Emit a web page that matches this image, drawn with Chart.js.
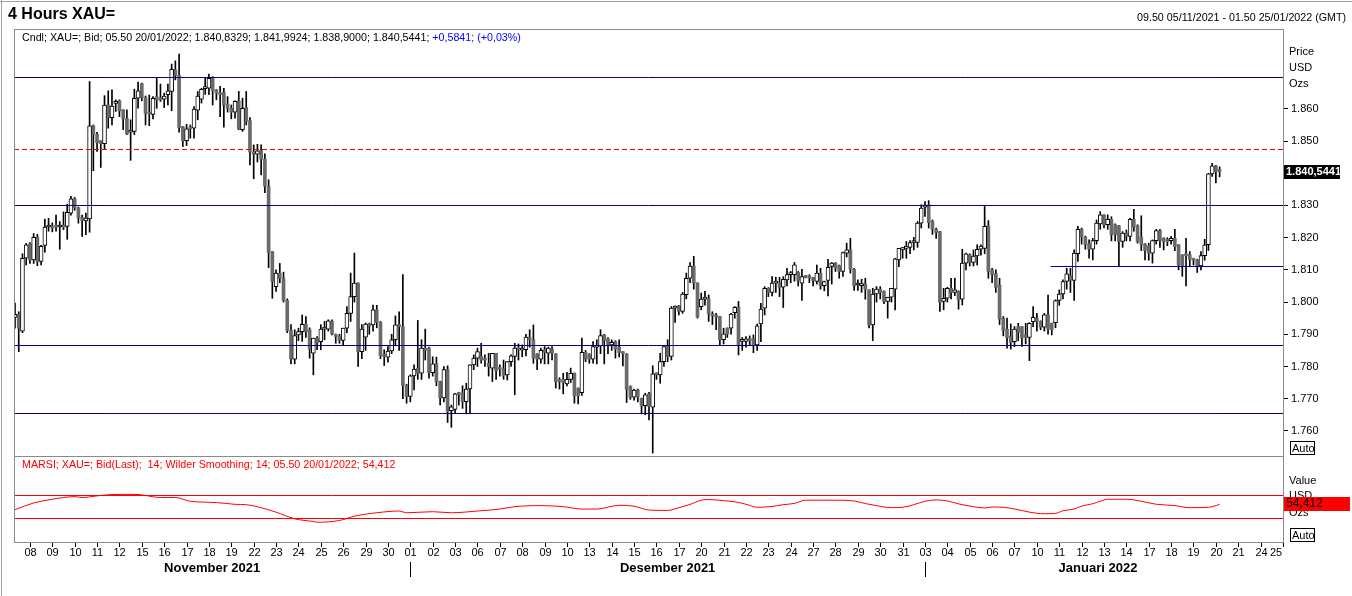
<!DOCTYPE html>
<html><head><meta charset="utf-8">
<script src="https://cdn.jsdelivr.net/npm/chart.js@4.4.1/dist/chart.umd.min.js"></script>
<style>
html,body{margin:0;padding:0;background:#fff;}
#wrap{position:relative;width:1352px;height:596px;overflow:hidden;background:#fff;}
canvas{position:absolute;left:0;}
#c1{top:0;}
#c2{top:456px;}
</style></head><body>
<div id="wrap"><canvas id="c1" width="1352" height="480"></canvas><canvas id="c2" width="1352" height="140"></canvas></div>
<script>
// ---------- DATA ----------
const dayLabels = ['08','09','10','11','12','15','16','17','18','19','22','23','24','25','26','29','30',
  '01','02','03','06','07','08','09','10','13','14','15','16','17','20','21','22','23','24','27','28','29','30','31',
  '03','04','05','06','07','10','11','12','13','14','17','18','19','20','21','24','25'];
const monthLabels = ['November 2021','Desember 2021','Januari 2022'];
const monthStartDay = [0,17,40];
const firstDayOffset = 4;   // 4-hour candles on Fri 05/11 before the first labelled day
const candlesPerDay = 6;

const opens = [
1795.2,1796.2,1791,1813.6,1818,1813.1,1820.1,1812.6,1817.6,1823.3,
1823.5,1823.7,1823.3,1823.9,1823.5,1827.6,1832.1,1829.2,1826.3,1825.2,
1825.8,1854.7,1852.1,1850.1,1849.2,1861.2,1857.3,1861.7,1862.5,1859.7,
1857,1852.8,1853,1863.3,1867.8,1863.5,1858.8,1858.3,1863.8,1863.3,
1863,1864.4,1865.4,1872.1,1870.4,1854.5,1850.1,1854.2,1854,1859.6,
1863,1866.3,1866.4,1869.7,1865.9,1864.9,1865.1,1861.5,1860.2,1859,
1862.5,1853.5,1860.4,1856.3,1846.6,1845.9,1847,1844.4,1836,1815.7,
1804.8,1809,1807.4,1800.5,1791.2,1782.3,1789.8,1790.8,1793.1,1791.4,
1784.1,1788.8,1787.7,1791.6,1791.6,1794,1789.8,1789.5,1788.1,1791.9,
1796.5,1801.7,1805.9,1784.6,1789.1,1793.2,1792.9,1797.6,1793.7,1783.6,
1782.9,1784.8,1788.3,1792.6,1792.4,1774.1,1770.7,1777.1,1779.5,1777.9,
1785.7,1785.7,1778.1,1780.8,1775.3,1770.2,1779,1766.3,1766.7,1771.5,
1771.7,1769.1,1773,1780.5,1782.6,1783.1,1782.2,1781,1779.5,1784.1,
1779.3,1779.3,1777.4,1781.5,1783.1,1785.7,1785.1,1785.2,1789.1,1788.3,
1783.8,1782.3,1785.2,1784.1,1785.5,1783.9,1775.8,1776,1774.6,1776,
1777.9,1773.2,1771.9,1784.4,1783.6,1782.3,1786,1786.4,1789.8,1788.6,
1786.7,1787.7,1786,1784.3,1783.9,1773.8,1770.5,1772.7,1770.1,1767.8,
1771.5,1767.4,1777.7,1777.4,1781.5,1786.2,1783.1,1798.1,1798.8,1797.1,
1802.3,1807.4,1811.2,1805.9,1798.6,1800.9,1801.1,1796.3,1796,1795.5,
1788.3,1791.9,1791.9,1796.7,1798.4,1787.8,1787.8,1788.6,1788.6,1786.7,
1793.2,1798.1,1804.3,1803,1805.9,1805.9,1804.6,1806.9,1808.5,1808.5,
1809.2,1805.9,1808,1807.9,1807.6,1806.4,1809,1805.1,1806.7,1811.1,
1812.1,1811.3,1809.5,1815.2,1816.2,1810.2,1805.3,1805.1,1805.6,1803.8,
1792.9,1802.5,1804,1803.3,1800.2,1801.5,1804,1813.1,1816.2,1816.7,
1817,1818.5,1818.5,1824.5,1829.5,1830.2,1825,1822.6,1821.9,1800.2,
1801.2,1804.3,1803,1803.3,1800.9,1812.1,1814.7,1812.3,1814.3,1816.4,
1816.7,1823.7,1810,1808.8,1805.3,1795,1791.6,1789.3,1787.7,1792.4,
1792.4,1789.8,1789,1793.9,1795,1794,1792.2,1796,1793.4,1793.6,
1800.5,1802.5,1806.4,1808.2,1806.7,1815,1822.6,1820.2,1818.1,1816.4,
1819.1,1824.3,1827.1,1824,1825.7,1824,1823.7,1818.8,1821.4,1820.4,
1825.7,1823.7,1820.2,1818,1817.5,1815.2,1819.1,1822.2,1819.8,1819.5,
1819.1,1819.8,1817.8,1814.7,1814.7,1814.7,1813.3,1813.1,1811.2,1814.4,
1817.8,1839.8,1842.3,1840.8329];

const highs = [
1799.7,1797,1815,1818.2,1818.5,1821.3,1821,1817.6,1825.8,1826,
1824.6,1827,1825,1828,1830.4,1832.8,1832.5,1829.5,1827,1827.6,
1868.5,1855,1852.7,1850.1,1864.1,1865.6,1865.9,1862.8,1862.8,1859.7,
1859.7,1856.6,1866.1,1868.3,1868,1864,1864.3,1863.8,1869.7,1867.7,
1864.9,1867.7,1873.9,1874.9,1877,1854.5,1855.2,1855,1860.7,1865.4,
1866.4,1869.5,1870.8,1870,1866,1867,1866.4,1863.8,1861.2,1862.5,
1865.4,1863.3,1865.4,1857.3,1848.8,1849,1848.8,1846,1838,1815.7,
1810,1812,1809.3,1801,1793,1791.4,1791.9,1796,1795.5,1792,
1788.8,1789.3,1793,1794,1794.5,1794.5,1790.1,1790,1791.9,1798.6,
1809,1815.2,1806,1793,1793.5,1793.5,1799.1,1799,1794,1785.2,
1786.2,1790,1795.7,1797,1808.5,1774.5,1777.4,1780.5,1794.3,1788.3,
1791.6,1786,1783,1782.9,1775.5,1780,1780.2,1768,1771.7,1772,
1774,1774.8,1780.5,1783.6,1785.7,1787.2,1783.6,1784.1,1784.1,1784.1,
1780.5,1782,1781.5,1783.6,1787.2,1787,1786.7,1790,1791.4,1792.9,
1784,1785.7,1786.2,1786,1786.2,1784,1776.5,1777.9,1778.2,1779.5,
1778,1773.4,1788.8,1785,1784,1787.7,1788.3,1791.4,1790,1789,
1788.3,1788,1788.3,1784.6,1784,1774,1773,1773,1770.2,1771.7,
1772,1780.2,1778,1784.1,1786.2,1788.3,1798.6,1798.8,1799,1803,
1809,1812.3,1814.2,1806,1802.8,1803.3,1802.2,1797,1796.5,1795.5,
1791.9,1792,1796.5,1798.6,1800.2,1789,1789.3,1789.5,1789.8,1793.2,
1799.6,1804.8,1804.5,1807.9,1807.7,1807.7,1807.9,1810.5,1809.5,1812.3,
1809.5,1810.2,1808.2,1808.5,1807.7,1811.5,1810.5,1806.5,1813.3,1812.3,
1812.3,1811.5,1815.5,1818.3,1819.8,1810.5,1806.9,1807.1,1807.4,1803.8,
1804.3,1804.8,1804.8,1803.5,1801.5,1804.3,1813.6,1816.7,1817,1818.8,
1819.1,1820.1,1825,1830.2,1831.2,1831.5,1825.5,1823,1822,1804.3,
1804.6,1807.4,1807.4,1803.5,1816.4,1815.2,1815,1816.2,1817.8,1817.8,
1829.7,1825.3,1810.5,1810,1807.4,1795.5,1795,1793.2,1792.4,1793.4,
1792.4,1793.4,1793.6,1798.6,1796.5,1794.2,1796.5,1802.2,1793.5,1800.7,
1803.8,1806.9,1810.5,1810.5,1816.2,1823.5,1823,1820.5,1819.3,1819.8,
1825.5,1828.1,1827.1,1827.1,1826.5,1824.3,1823.8,1821.9,1822.4,1826,
1828.8,1824,1826.8,1818.2,1818.3,1819.3,1822.6,1822.6,1820,1820,
1820.4,1822.6,1817.8,1814.7,1819.8,1815.7,1813.5,1813.3,1815.7,1819.5,
1840,1843.1,1842.5,1841.9924];

const lows = [
1791.9,1784.6,1790.5,1811.5,1812,1812,1811.3,1811.5,1815.5,1822,
1821.8,1822,1816.4,1822.5,1819.5,1827,1828.5,1824.5,1820.4,1820.9,
1821.7,1840.8,1846.8,1841.8,1847.6,1854,1855,1859.2,1857.6,1853.5,
1852,1844,1852,1860.2,1862.5,1855,1854.8,1856.9,1860.2,1862.3,
1860.4,1861.2,1859.4,1869,1852.8,1848.3,1848.6,1850.9,1850.9,1856.6,
1861.8,1864.5,1864.4,1861.2,1862.8,1857.6,1854.3,1859,1856.9,1857.1,
1853.5,1853,1855,1842.6,1838.3,1843.5,1839.5,1834,1810.7,1801.2,
1803.3,1806,1800,1790.5,1780.8,1780.8,1788,1787.8,1789,1782.6,
1777.4,1785.2,1785.2,1788.3,1791,1789.8,1787.2,1787.2,1786.7,1790.5,
1794,1800,1780,1782.4,1785,1790,1791,1792,1782.4,1780.3,
1781.3,1784,1786.4,1785,1770,1768.6,1769,1772.7,1776,1776,
1782,1776.4,1777,1774,1768.1,1769,1762.6,1761.1,1765.5,1768,
1767,1765.3,1765.5,1779,1780,1781,1780,1777,1775.3,1776,
1777,1776,1775.8,1780,1771.2,1782,1783,1783.3,1786,1781,
1779,1781,1780.8,1780.8,1782,1773.3,1773,1771.5,1774,1775,
1768.6,1768.4,1771,1781.5,1781,1781,1780.8,1784,1780.8,1784,
1785,1782.6,1783,1780.2,1768.8,1769.8,1769.5,1769,1765.3,1765,
1763.4,1753.1,1776,1774.8,1780,1781.5,1782,1793.7,1796,1796.5,
1801,1806,1804,1795,1797.6,1799,1794,1793,1791.4,1786.7,
1787,1789,1790,1795,1783.6,1785,1786,1786.5,1784.3,1785,
1787.7,1796,1801.7,1801.9,1803,1801.7,1798.3,1805,1806,1806.5,
1805,1800.5,1807.5,1806,1805,1805.6,1804,1803.5,1801.9,1805.6,
1809.5,1807.4,1808,1814,1809,1803.6,1803.6,1803,1800.9,1792,
1788,1800,1801,1799.5,1795,1800,1797.6,1811,1813.6,1813.6,
1815,1816.2,1817,1823,1826.6,1823,1821,1819.8,1797.1,1797.6,
1800,1801,1802,1797.8,1799.1,1810,1811.2,1811.2,1811.5,1814.6,
1815,1807.4,1806,1803,1793,1789.5,1785.7,1785.4,1786.2,1788,
1786.2,1787,1781.8,1792.4,1791,1791.4,1791,1790,1789.8,1792,
1799,1801,1804,1803,1800.5,1812.6,1818,1816.4,1813.6,1813.1,
1818,1822.6,1823,1822.6,1819,1819,1811.2,1817,1819,1819,
1822,1818.3,1816,1813.1,1813,1812.1,1818,1817,1816.2,1817.5,
1818,1816,1810,1808,1805,1811,1811.5,1809.2,1810,1813,
1816,1839,1837,1838.9];

const closes = [
1796.2,1791.9,1813.6,1817.8,1813.1,1820.1,1812.6,1817.3,1823.3,1823.6,
1823,1823.3,1823.9,1823.3,1827.9,1832.1,1829.2,1826.1,1825.3,1826.1,
1854.7,1852.1,1849.5,1849.2,1861.2,1857.3,1860.9,1862.1,1859.4,1856.9,
1852.2,1853.2,1863.3,1865.6,1863.5,1858.6,1858.4,1863.3,1862.8,1862.8,
1864,1865.6,1872.3,1870.4,1854.2,1850.1,1853.8,1853.8,1859.9,1864,
1866.1,1866.7,1869.5,1865.6,1864.9,1864.4,1861.2,1860.2,1859,1862.3,
1853.7,1860.2,1856.1,1846.6,1845.9,1847,1844.4,1836,1815.4,1806.4,
1809,1807.4,1800.5,1791.2,1782.3,1789.6,1790.8,1793.1,1790.8,1785.4,
1788.8,1787.4,1791.6,1792,1794.2,1790.1,1789.3,1788.1,1791.9,1796.5,
1801.7,1805.9,1784.6,1791.6,1793.2,1792.6,1797.6,1793.7,1783.3,1783.1,
1784.8,1788.3,1792.9,1792.4,1774.1,1770.7,1777.1,1779.2,1777.9,1785.7,
1785,1778.1,1780.8,1775.3,1770.2,1779,1766,1767.5,1771.5,1771.3,
1769.1,1773,1780.5,1782.6,1784.6,1782,1782,1780,1784.1,1778.7,
1779.1,1777.2,1781.5,1783.3,1785.7,1785.2,1785.4,1789.1,1788.3,1782.6,
1782.3,1785,1784.4,1785.7,1784.1,1775.3,1775.3,1775,1776,1777.9,
1770.9,1770.9,1784.4,1782.3,1782.3,1786.2,1786.4,1789.6,1788.1,1786.9,
1787.5,1785.4,1784.3,1784,1772.9,1770.5,1772.7,1770.5,1767.8,1771.2,
1767.6,1777.7,1777.4,1781.5,1786.2,1783.1,1798.1,1798.6,1797.1,1802.5,
1807.4,1811.2,1805.9,1795.3,1800.9,1801.2,1796.3,1795.7,1795.3,1788.3,
1790.1,1790.1,1796.3,1798.4,1786.7,1788.3,1788.6,1788,1786.7,1792.6,
1797.8,1804.3,1803,1805.9,1806.2,1804.6,1807.1,1808.5,1808.8,1811.6,
1806.7,1807.9,1807.7,1807.5,1806.7,1809,1805.1,1806.4,1810.8,1812.1,
1810.5,1809.5,1815.4,1816.2,1810.2,1805.1,1805.6,1805.6,1804,1792.9,
1802.5,1804,1803,1800.2,1801.5,1804.3,1813.4,1816.7,1816.9,1817.4,
1818.5,1818.8,1824.5,1829.2,1830,1824.7,1822.6,1821.6,1799.9,1801.2,
1804.3,1803,1803.8,1800.7,1812.1,1815,1812.3,1814.3,1816.4,1817.4,
1823.5,1809.5,1808.5,1804.6,1794.7,1791.2,1789,1787.4,1791.6,1790.6,
1788.8,1789,1793.4,1795.3,1794,1792.2,1796,1791.6,1791.4,1800.5,
1802.5,1806.4,1808.8,1806.9,1815.2,1822.6,1820.2,1817.8,1816.4,1819.1,
1824.5,1827.1,1824,1825.7,1820.9,1820.9,1818.8,1821.4,1820.4,1825.7,
1823.3,1818.8,1817.8,1816,1815.2,1819.1,1822.2,1819.1,1818.8,1818.8,
1819.8,1817.3,1811.6,1811,1814.4,1813.3,1813,1811.2,1814.4,1817.8,
1839.8,1842.3,1840.5,1840.5441];

// MARSI (14, Wilder) read at candle indices
const rsiIdx = [0,5,10,16,18,22,26,30,33,39,43,47,54,59,62,66,70,75,80,81,87,91,97,103,105,112,117,124,130,134,141,147,152,156,162,166,170,175,178,181,184,186,190,193,196,199,203,206,209,212,216,220,225,228,231,235,238,241,244,247,250,253,257,260,262,265,269,272,276,279,281,284,286,289,291,293,298,302,306,311,315,320,323];
const rsiVal = [45.3,57,63.5,68,66.5,69.3,71.7,72,71.7,66.5,66.5,60,57.7,54.7,54,48.8,41,29.5,24.7,23.5,26.5,34,40,43,40,41.8,40,43,46.4,50.6,52.4,50.6,46.4,46.4,53,51.4,44.7,44,48.8,54.5,61.8,63,61,59,54.8,49.5,51,54,56.3,61.8,61.8,61.8,60.5,56,52.4,48.8,49.5,54,60,62.3,60.5,55.5,50.6,48.2,50,49.5,45.3,41.1,38.3,38.9,43.5,46.5,51.6,55.7,60,63.5,63.5,60,54.8,52.4,48.8,49.5,54.4];
const lastRsi = 54.412;
const rsiBands = [70,30];

const priceTicks = [1760,1770,1780,1790,1800,1810,1820,1830,1840,1850,1860];
const solidLevels = [1869.74,1829.99,1786.51,1765.4];
const dashedLevel = 1847.38;
const supportLevel = 1811.05, supportFromIdx = 277.7;

const titleText = '4 Hours XAU=';
const rangeText = '09.50 05/11/2021 - 01.50 25/01/2022 (GMT)';
const legendBlack = 'Cndl; XAU=; Bid; 05.50 20/01/2022; 1.840,8329; 1.841,9924; 1.838,9000; 1.840,5441; ';
const legendBlue = '+0,5841; (+0,03%)';
const rsiLegend = 'MARSI; XAU=; Bid(Last);  14; Wilder Smoothing; 14; 05.50 20/01/2022; 54,412';

// ---------- LAYOUT ----------
const xMin = -0.27, xMax = 340;
const FONT = "'Liberation Sans', Arial, sans-serif";
Chart.defaults.font.family = FONT;
const NAVY = '#000080';

const N = Math.min(opens.length, highs.length, lows.length, closes.length);
const wicks = [], upBodies = [], downBodies = [];
for (let i = 0; i < N; i++) {
  wicks.push({x: i, y: [lows[i], highs[i]]});
  (closes[i] >= opens[i] ? upBodies : downBodies).push({x: i, y: [opens[i], closes[i]]});
}
function hline(level, from, color, dash) {
  return {type: 'line', data: [{x: from, y: level}, {x: xMax, y: level}], borderColor: color,
    borderWidth: 1, borderDash: dash || [], pointRadius: 0, order: 0, fill: false};
}
const fmtTick = v => { const s = String(Math.round(v)); return s.slice(0, -3) + '.' + s.slice(-3); };
const fmt4 = v => { const t = v.toFixed(4).split('.'); return fmtTick(+t[0]) + ',' + t[1]; };

function autoBox(ctx, x, y) {
  ctx.save();
  ctx.strokeStyle = '#000'; ctx.lineWidth = 1;
  ctx.strokeRect(x + 0.5, y + 0.5, 24, 13);
  ctx.fillStyle = '#000'; ctx.font = '11px ' + FONT; ctx.textBaseline = 'middle'; ctx.textAlign = 'left';
  ctx.fillText('Auto', x + 2, y + 7.5);
  ctx.restore();
}

const mainDeco = {
  id: 'mainDeco',
  afterDraw(chart) {
    const ctx = chart.ctx, a = chart.chartArea, ys = chart.scales.y;
    ctx.save();
    ctx.strokeStyle = '#a0a0a0'; ctx.lineWidth = 1;
    ctx.beginPath(); ctx.moveTo(0, 1.5); ctx.lineTo(1352, 1.5); ctx.moveTo(1.5, 0); ctx.lineTo(1.5, 457); ctx.stroke();
    ctx.strokeStyle = '#8a8a8a';
    ctx.strokeRect(a.left + 0.5, a.top + 0.5, a.right - a.left, a.bottom - a.top);
    ctx.fillStyle = '#000'; ctx.textBaseline = 'alphabetic';
    ctx.font = 'bold 16px ' + FONT; ctx.textAlign = 'left';
    ctx.fillText(titleText, 8, 19);
    ctx.font = '10.7px ' + FONT; ctx.textAlign = 'right';
    ctx.fillText(rangeText, 1346, 21);
    ctx.textAlign = 'left';
    ctx.fillText(legendBlack, 22, 41);
    const w = ctx.measureText(legendBlack).width;
    ctx.fillStyle = '#0000ff';
    ctx.fillText(legendBlue, 22 + w, 41);
    ctx.font = '11px ' + FONT;
    ctx.fillStyle = '#000'; ctx.textBaseline = 'middle';
    ctx.fillText('Price', 1289, 52); ctx.fillText('USD', 1289, 68); ctx.fillText('Ozs', 1289, 84);
    const last = closes[N - 1], py = ys.getPixelForValue(last);
    ctx.fillStyle = '#000'; ctx.fillRect(a.right + 1, Math.round(py) - 7, 56, 14);
    ctx.fillStyle = '#fff'; ctx.font = 'bold 11px ' + FONT;
    ctx.fillText(fmt4(last), a.right + 3, Math.round(py));
    ctx.restore();
    autoBox(ctx, 1290, 441);
  }
};

new Chart(document.getElementById('c1'), {
  type: 'bar',
  data: {
    datasets: [
      {data: upBodies, backgroundColor: '#ffffff', borderColor: '#000', borderWidth: 1, borderSkipped: false,
        barThickness: 4, grouped: false, order: 1, minBarLength: 2},
      {data: downBodies, backgroundColor: '#6a6a6a', borderWidth: 0, barThickness: 3, grouped: false,
        order: 1, minBarLength: 2},
      {data: wicks, backgroundColor: '#000', borderWidth: 0, barThickness: 1, grouped: false, order: 2},
      ...solidLevels.map(l => hline(l, xMin, NAVY)),
      hline(dashedLevel, xMin, '#ff0000', [5, 3]),
      hline(supportLevel, supportFromIdx, '#0000a0')
    ]
  },
  options: {
    responsive: false, animation: false, devicePixelRatio: 1,
    layout: {padding: {left: 14, top: 29, right: 0, bottom: 24}},
    plugins: {legend: {display: false}, tooltip: {enabled: false}},
    scales: {
      x: {type: 'linear', min: xMin, max: xMax, display: false, offset: false},
      y: {position: 'right', min: 1752.2, max: 1884.8,
        afterBuildTicks: s => { s.ticks = priceTicks.map(v => ({value: v})); },
        afterFit: s => { s.width = 69; },
        ticks: {callback: v => fmtTick(v), font: {size: 11}, color: '#000', padding: 3},
        grid: {drawOnChartArea: false, drawTicks: true, tickLength: 5, color: '#000'},
        border: {display: false}}
    }
  },
  plugins: [mainDeco]
});

const rsiDeco = {
  id: 'rsiDeco',
  afterDraw(chart) {
    const ctx = chart.ctx, a = chart.chartArea, xs = chart.scales.x, ys = chart.scales.y;
    ctx.save();
    ctx.strokeStyle = '#a0a0a0'; ctx.lineWidth = 1;
    ctx.beginPath(); ctx.moveTo(1.5, 0); ctx.lineTo(1.5, 140); ctx.stroke();
    ctx.strokeStyle = '#8a8a8a';
    ctx.strokeRect(a.left + 0.5, a.top + 0.5, a.right - a.left, a.bottom - a.top);
    ctx.font = '10.7px ' + FONT; ctx.textBaseline = 'middle'; ctx.textAlign = 'left';
    ctx.fillStyle = '#ff0000';
    ctx.fillText(rsiLegend, 22, 9);
    ctx.font = '11px ' + FONT;
    ctx.fillStyle = '#000';
    ctx.fillText('Value', 1289, 25); ctx.fillText('USD', 1289, 40); ctx.fillText('Ozs', 1289, 57);
    const ry = Math.round(ys.getPixelForValue(lastRsi));
    ctx.fillStyle = '#ff0000'; ctx.fillRect(a.right + 1, ry - 7, 66, 14);
    ctx.fillStyle = '#000'; ctx.font = '12px ' + FONT;
    ctx.fillText(String(lastRsi).replace('.', ','), a.right + 3, ry);
    ctx.font = '11px ' + FONT; ctx.textAlign = 'center';
    ctx.strokeStyle = '#000';
    dayLabels.forEach((lab, k) => {
      const px = Math.round(xs.getPixelForValue(firstDayOffset + candlesPerDay * k)) + 0.5;
      ctx.beginPath(); ctx.moveTo(px, a.bottom + 1); ctx.lineTo(px, a.bottom + 5); ctx.stroke();
      ctx.fillText(lab, Math.min(px, a.right - 7), a.bottom + 11);
    });
    ctx.font = 'bold 13px ' + FONT;
    monthLabels.forEach((m, k) => {
      const s = k === 0 ? a.left : xs.getPixelForValue(firstDayOffset + candlesPerDay * monthStartDay[k]);
      const e = k < monthLabels.length - 1 ? xs.getPixelForValue(firstDayOffset + candlesPerDay * monthStartDay[k + 1]) : a.right;
      ctx.fillText(m, (s + e) / 2 - (k === monthLabels.length - 1 ? 6 : 0), a.bottom + 26);
      if (k > 0) {
        const px = Math.round(s) + 0.5;
        ctx.beginPath(); ctx.moveTo(px, a.bottom + 20); ctx.lineTo(px, a.bottom + 35); ctx.stroke();
      }
    });
    ctx.restore();
    autoBox(ctx, 1290, 72);
  }
};

new Chart(document.getElementById('c2'), {
  type: 'line',
  data: {
    datasets: [
      {data: rsiIdx.map((x, k) => ({x: x, y: rsiVal[k]})), borderColor: '#ff0000', borderWidth: 1,
        pointRadius: 0, cubicInterpolationMode: 'monotone', fill: false, order: 1},
      ...rsiBands.map(b => ({data: [{x: xMin, y: b}, {x: xMax, y: b}], borderColor: '#ff0000', borderWidth: 1,
        pointRadius: 0, fill: false, order: 2}))
    ]
  },
  options: {
    responsive: false, animation: false, devicePixelRatio: 1,
    layout: {padding: {left: 14, top: 0, right: 69, bottom: 54}},
    plugins: {legend: {display: false}, tooltip: {enabled: false}},
    scales: {
      x: {type: 'linear', min: xMin, max: xMax, display: false},
      y: {min: -10.87, max: 138.7, display: false}
    }
  },
  plugins: [rsiDeco]
});
</script>
</body></html>
